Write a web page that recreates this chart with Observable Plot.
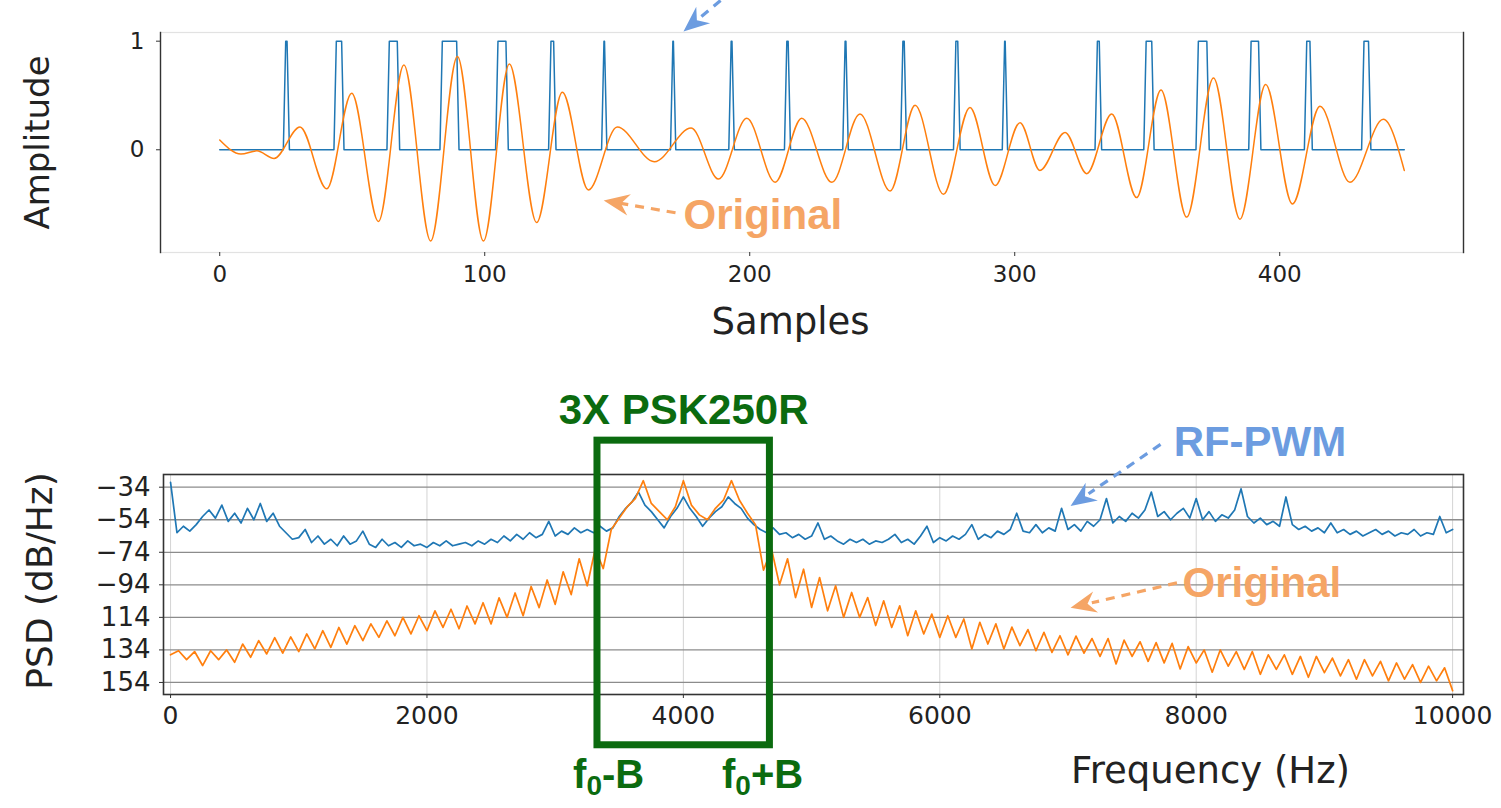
<!DOCTYPE html>
<html><head><meta charset="utf-8">
<script src="https://cdn.jsdelivr.net/npm/d3@7"></script>
<script src="https://cdn.jsdelivr.net/npm/@observablehq/plot@0.6"></script>
<style>
html,body{margin:0;padding:0;background:#fff;}
#wrap{position:relative;width:1501px;height:808px;overflow:hidden;background:#fff;}
#top,#bottom{position:absolute;left:0;}
#top{top:0px;}
#bottom{top:350px;}
svg{overflow:visible;}
</style></head>
<body><div id="wrap"><div id="top"></div><div id="bottom"></div></div>
<script>
// ---------------- DATA: top panel (time domain) ----------------
const sampleTicks = [0, 100, 200, 300, 400];
const ampTicks = [0, 1];
const lastSample = 447;
// RF-PWM pulses: [first sample at 1, last sample at 1]
const pwmPulses = [[24.9,25.4],[44,46],[64,67],[84,89.4],[105,108],[125,126],[145,145.2],[171,171.2],[193,193.3],[214,214.5],[236,236.3],[257.8,258.3],[277.8,278.5],[296.2,296.4],[331.2,331.9],[349.6,351.7],[369.3,372.5],[389.2,392],[410.2,411.4],[431.8,433.5]];
// Original signal: turning points (sample, amplitude)
const origSample = [0, 8, 14, 20.5, 30.3, 40.4, 49.8, 59.9, 69.5, 79.6, 89.7, 99.5, 109.3, 119.6, 129.3, 139.1, 150, 164, 177.9, 188.2, 198.9, 209.6, 219.6, 231, 241.6, 253, 262.4, 273.1, 283.1, 292.6, 302, 309.5, 319, 327.2, 336.6, 346, 355.2, 364.9, 375, 385, 394.7, 404.8, 415.2, 426.5, 439.1, 447];
const origAmp = [0.09, -0.04, -0.01, -0.08, 0.21, -0.36, 0.52, -0.66, 0.78, -0.84, 0.86, -0.84, 0.79, -0.67, 0.53, -0.37, 0.21, -0.11, 0.2, -0.27, 0.29, -0.3, 0.29, -0.3, 0.33, -0.38, 0.41, -0.41, 0.39, -0.33, 0.25, -0.19, 0.16, -0.22, 0.33, -0.44, 0.55, -0.62, 0.66, -0.64, 0.6, -0.5, 0.4, -0.3, 0.28, -0.19];

// ---------------- DATA: bottom panel (PSD) ----------------
const freqTicks = [0, 2000, 4000, 6000, 8000, 10000];
const psdTicks = [-34, -54, -74, -94, -114, -134, -154];
const psdTickLabels = ["\u221234", "\u221254", "\u221274", "\u221294", "114", "134", "154"];
const pwmStepHz = 50;
const pwmPsd = [
 -31, -62, -58, -61, -57, -52, -48, -53, -45, -55,
 -50, -56, -47, -54, -44, -55, -50, -58, -62, -66,
 -65, -60, -68, -64, -69, -66, -70, -64, -69, -67,
 -61, -69, -71, -66, -70, -68, -71, -67, -70, -69,
 -71, -68, -70, -67, -70, -69, -68, -70, -67, -69,
 -66, -68, -64, -67, -63, -66, -62, -65, -63, -55,
 -64, -61, -63, -59, -62, -60, -62, -58, -61, -59,
 -52, -47, -43, -37, -45, -49, -54, -59, -52, -47,
 -40, -47, -52, -58, -53, -49, -46, -40, -44, -47,
 -53, -57, -60, -62, -59, -63, -62, -65, -63, -66,
 -64, -56, -66, -64, -67, -69, -66, -68, -66, -69,
 -67, -68, -66, -63, -68, -66, -69, -64, -58, -68,
 -65, -67, -64, -66, -63, -57, -66, -63, -65, -61,
 -63, -60, -50, -61, -62, -57, -62, -59, -61, -47,
 -60, -57, -61, -55, -58, -54, -41, -56, -52, -55,
 -50, -53, -48, -37, -52, -49, -54, -50, -47, -53,
 -41, -54, -49, -55, -51, -53, -48, -35, -52, -56,
 -53, -57, -55, -58, -40, -57, -60, -58, -61, -59,
 -62, -56, -62, -60, -63, -61, -64, -62, -60, -63,
 -61, -64, -62, -63, -60, -64, -62, -63, -52, -62,
 -60];
const origStepHz = 62.5;
const origPsd = [
 -137, -134.5, -140, -135, -143.6, -134.5, -140, -134, -141.6, -130.4,
 -138.5, -128.3, -136.5, -126.5, -136, -126, -135, -124.2, -133.4, -122.2,
 -132.4, -120.2, -130.4, -119.1, -128.3, -118, -126.3, -116.1, -125.3, -114,
 -124.2, -113, -122.2, -110, -120.2, -109, -121, -107, -118, -105,
 -118, -102, -114, -99, -113, -95, -108, -91, -106, -86,
 -100, -78, -94.6, -72, -84, -60, -53, -46, -41, -30,
 -44, -49, -54, -46, -30, -45, -51, -54, -47, -42,
 -30, -42, -50, -57, -85, -72, -94,
 -78, -101.8, -84.4, -107.9, -89.5, -110, -94.6, -114, -98.7, -114,
 -101.8, -119, -103.8, -120.2, -106.9, -125.3, -110, -124.2, -112, -126.3,
 -113, -126.3, -115, -133.4, -117, -130.4, -118, -133.4, -120, -131.4,
 -121.5, -134.5, -123.2, -135.5, -125.3, -137, -125.5, -136, -127, -138,
 -127, -142.6, -128, -138, -129, -141, -129.5, -142, -130, -145.7,
 -132, -142, -134, -147.7, -134, -144, -135, -146, -135, -149,
 -137, -146, -137, -149, -138, -150.8, -138, -148, -139, -150,
 -140, -152, -140, -150, -141, -153, -142, -152, -143, -154,
 -144, -153, -145, -159];
// band of interest (f0-B, f0+B) and its drawn box extent in dB
const bandEdgesHz = [3330, 4675];
const bandBoxDb = [-192.6, -5.4];

// ---------------- STYLE / LAYOUT ----------------
const C_BLUE = "#1f77b4", C_ORANGE = "#ff7f0e";
const C_BLUE_ANN = "#6c9ce0", C_ORANGE_ANN = "#f5a565", C_GREEN = "#0b6b0f";
const W = 1501;
const topCfg = {h: 350, ml: 160, mr: 38, mt: 32, mb: 98, xd: [-22.35, 469.35], yd: [-0.946, 1.08]};
const botCfg = {h: 458, ml: 163, mr: 38, mt: 124, mb: 114, xd: [-55, 10085], yd: [-161.4, -26.2]};
function pxMap(cfg) {
  const sx = v => cfg.ml + (v - cfg.xd[0]) / (cfg.xd[1] - cfg.xd[0]) * (W - cfg.ml - cfg.mr);
  const sy = v => (cfg.h - cfg.mb) - (v - cfg.yd[0]) / (cfg.yd[1] - cfg.yd[0]) * (cfg.h - cfg.mt - cfg.mb);
  return {sx, sy};
}
// filled barbed arrowhead, tip at origin, pointing up
const arrowHead = {draw(ctx, size) {
  const L = Math.sqrt(size);
  ctx.moveTo(0, 0); ctx.lineTo(L * 0.42, L); ctx.lineTo(0, L * 0.68); ctx.lineTo(-L * 0.42, L); ctx.closePath();
}};
function arrowMarks(cfg, a, color) {
  const {sx, sy} = pxMap(cfg);
  const dx = sx(a.x2) - sx(a.x1), dy = sy(a.y2) - sy(a.y1);
  const ang = Math.atan2(dx, -dy) * 180 / Math.PI;
  const shaftEnd = {x: a.x1 + (a.x2 - a.x1) * 0.8, y: a.y1 + (a.y2 - a.y1) * 0.8};
  return [
    Plot.link([{x1: a.x1, y1: a.y1, x2: shaftEnd.x, y2: shaftEnd.y}], {x1: "x1", y1: "y1", x2: "x2", y2: "y2", stroke: color, strokeWidth: 3.2, strokeDasharray: "9,7"}),
    Plot.dot([{x: a.x2, y: a.y2}], {x: "x", y: "y", symbol: arrowHead, r: 14.5, rotate: ang, fill: color, stroke: "none"})
  ];
}

// ---------------- TOP PANEL ----------------
const pwmPts = [{s: 0, v: 0}];
for (const [a, b] of pwmPulses) {
  pwmPts.push({s: a - 0.9, v: 0}, {s: a, v: 1}, {s: b, v: 1}, {s: b + 0.9, v: 0});
}
pwmPts.push({s: lastSample, v: 0});
const origPts = origSample.map((s, i) => ({s, v: origAmp[i]}));

const topAnn = {
  blueArrow: {x1: 189, y1: 1.375, x2: 175, y2: 1.089},
  origArrow: {x1: 172, y1: -0.58, x2: 144.9, y2: -0.467},
  origText: {x: 175, y: -0.61, t: "Original"},
  xLabel: {x: 215.4, y: -1.59, t: "Samples"},
  yLabel: {x: -68.4, y: 0.067, t: "Amplitude"}
};

const topPlot = Plot.plot({
  width: W, height: topCfg.h,
  marginLeft: topCfg.ml, marginRight: topCfg.mr, marginTop: topCfg.mt, marginBottom: topCfg.mb,
  x: {domain: topCfg.xd},
  y: {domain: topCfg.yd},
  style: {fontFamily: "DejaVu Sans", background: "white", color: "#222", overflow: "visible"},
  marks: [
    Plot.frame({stroke: "#e2e2e2", strokeWidth: 1.2}),
    Plot.frame({anchor: "left", stroke: "#333", strokeWidth: 1.4}),
    Plot.frame({anchor: "right", stroke: "#333", strokeWidth: 1.4}),
    Plot.axisX({ticks: sampleTicks, tickFormat: d => String(d), tickSize: 4, tickPadding: 9, fontSize: 23, label: null, stroke: "#333"}),
    Plot.axisY({ticks: ampTicks, tickFormat: d => String(d), tickSize: 4, tickPadding: 12, fontSize: 23, label: null, stroke: "#333"}),
    Plot.line(pwmPts, {x: "s", y: "v", stroke: C_BLUE, strokeWidth: 1.5}),
    Plot.line(origPts, {x: "s", y: "v", curve: "monotone-x", stroke: C_ORANGE, strokeWidth: 1.5}),
    ...arrowMarks(topCfg, topAnn.blueArrow, C_BLUE_ANN),
    ...arrowMarks(topCfg, topAnn.origArrow, C_ORANGE_ANN),
    Plot.text([topAnn.origText], {x: "x", y: "y", text: "t", textAnchor: "start", fontSize: 42, fontWeight: "bold", fontFamily: "Liberation Sans, Arial, sans-serif", fill: C_ORANGE_ANN}),
    Plot.text([topAnn.xLabel], {x: "x", y: "y", text: "t", fontSize: 37, fill: "#222"}),
    Plot.text([topAnn.yLabel], {x: "x", y: "y", text: "t", fontSize: 34, rotate: -90, fill: "#222"})
  ]
});
document.getElementById("top").appendChild(topPlot);

// ---------------- BOTTOM PANEL ----------------
const pwmSeries = pwmPsd.map((v, i) => ({f: i * pwmStepHz, v}));
const origSeries = origPsd.map((v, i) => ({f: i * origStepHz, v}));

const botAnn = {
  title: {x: 4002, y: 13.2, t: "3X PSK250R"},
  rfText: {x: 7824, y: -6.6, t: "RF-PWM"},
  rfArrow: {x1: 7722, y1: -7.7, x2: 7020, y2: -45.6},
  origText: {x: 7894, y: -93.4, t: "Original"},
  origArrow: {x1: 7850, y1: -92.8, x2: 7020, y2: -108.1},
  fLow: {x: 3417, y: -211, t: "f0-B"},
  fHigh: {x: 4618, y: -211, t: "f0+B"},
  xLabel: {x: 8112, y: -208.6, t: "Frequency (Hz)"},
  yLabel: {x: -1014, y: -91.6, t: "PSD (dB/Hz)"}
};

const botPlot = Plot.plot({
  width: W, height: botCfg.h,
  marginLeft: botCfg.ml, marginRight: botCfg.mr, marginTop: botCfg.mt, marginBottom: botCfg.mb,
  x: {domain: botCfg.xd},
  y: {domain: botCfg.yd},
  style: {fontFamily: "DejaVu Sans", background: "white", color: "#222", overflow: "visible"},
  marks: [
    Plot.gridX({ticks: freqTicks, stroke: "#d4d4d4", strokeOpacity: 1, strokeWidth: 1}),
    Plot.gridY({ticks: psdTicks, stroke: "#8c8c8c", strokeOpacity: 1, strokeWidth: 1.3}),
    Plot.axisX({ticks: freqTicks, tickFormat: d => String(d), tickSize: 4, tickPadding: 8, fontSize: 25, label: null, stroke: "#333"}),
    Plot.axisY({ticks: psdTicks, tickFormat: d => psdTickLabels[psdTicks.indexOf(d)], tickSize: 4, tickPadding: 9, fontSize: 26, label: null, stroke: "#333"}),
    Plot.line(pwmSeries, {x: "f", y: "v", stroke: C_BLUE, strokeWidth: 1.7}),
    Plot.line(origSeries, {x: "f", y: "v", stroke: C_ORANGE, strokeWidth: 1.7}),
    Plot.frame({stroke: "#333", strokeWidth: 1.6}),
    Plot.rect([{x1: bandEdgesHz[0], x2: bandEdgesHz[1], y1: bandBoxDb[0], y2: bandBoxDb[1]}], {x1: "x1", x2: "x2", y1: "y1", y2: "y2", fill: "none", stroke: C_GREEN, strokeWidth: 7}),
    Plot.text([botAnn.title], {x: "x", y: "y", text: "t", fontSize: 42, fontWeight: "bold", fontFamily: "Liberation Sans, Arial, sans-serif", fill: C_GREEN}),
    Plot.text([botAnn.fLow, botAnn.fHigh], {x: "x", y: "y", text: "t", fontSize: 40, fontWeight: "bold", fontFamily: "Liberation Sans, Arial, sans-serif", fill: C_GREEN, className: "band-edge"}),
    ...arrowMarks(botCfg, botAnn.rfArrow, C_BLUE_ANN),
    ...arrowMarks(botCfg, botAnn.origArrow, C_ORANGE_ANN),
    Plot.text([botAnn.rfText], {x: "x", y: "y", text: "t", textAnchor: "start", fontSize: 42, fontWeight: "bold", fontFamily: "Liberation Sans, Arial, sans-serif", fill: C_BLUE_ANN}),
    Plot.text([botAnn.origText], {x: "x", y: "y", text: "t", textAnchor: "start", fontSize: 42, fontWeight: "bold", fontFamily: "Liberation Sans, Arial, sans-serif", fill: C_ORANGE_ANN}),
    Plot.text([botAnn.xLabel], {x: "x", y: "y", text: "t", fontSize: 37, fill: "#222"}),
    Plot.text([botAnn.yLabel], {x: "x", y: "y", text: "t", fontSize: 36, rotate: -90, fill: "#222"})
  ]
});
document.getElementById("bottom").appendChild(botPlot);

// subscript the "0" in f0-B / f0+B
botPlot.querySelectorAll(".band-edge text").forEach(el => {
  const s = el.textContent;            // e.g. "f0-B"
  const ns = "http://www.w3.org/2000/svg";
  el.textContent = "";
  el.appendChild(document.createTextNode(s.slice(0, 1)));
  const sub = document.createElementNS(ns, "tspan");
  sub.setAttribute("font-size", "28");
  sub.setAttribute("dy", "7");
  sub.textContent = s.slice(1, 2);
  el.appendChild(sub);
  const rest = document.createElementNS(ns, "tspan");
  rest.setAttribute("dy", "-7");
  rest.textContent = s.slice(2);
  el.appendChild(rest);
});
</script>
</body></html>
